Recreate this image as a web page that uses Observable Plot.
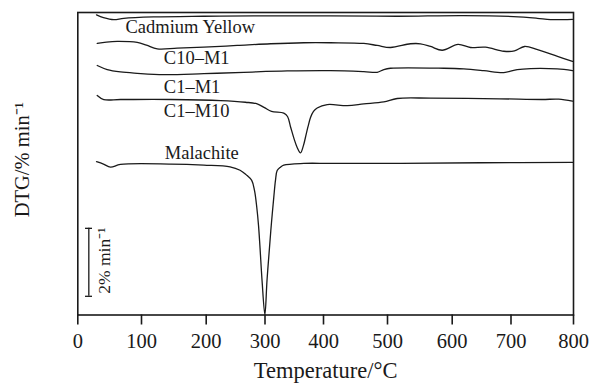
<!DOCTYPE html>
<html><head><meta charset="utf-8">
<script src="https://cdn.jsdelivr.net/npm/d3@7"></script>
<script src="https://cdn.jsdelivr.net/npm/@observablehq/plot@0.6"></script>
<style>body{margin:0;background:#fff}</style>
</head><body><div id="chart"></div>
<script>
// x tick labels (°C)
const xTicks = [0, 100, 200, 300, 400, 500, 600, 700, 800];

// Series (temperature °C, DTG in %/min with vertical offsets as stacked in the figure)
const cadmiumT   = [29.4, 40.3, 56.5, 72.2, 118.5, 195.8, 280.4, 410.9, 515, 619.2, 704, 741.9, 763.2, 798.4];
const cadmiumDTG = [8.83, 8.75, 8.69, 8.73, 8.77, 8.79, 8.80, 8.80, 8.79, 8.81, 8.78, 8.73, 8.69, 8.70];

const c10m1T   = [30.5, 45, 61.9, 93.3, 107.7, 124.3, 155.2, 196.3, 252.7, 309.4, 366.3, 410.9, 463, 483.9, 504.6, 535.5, 551, 566.5, 584.6, 609.9, 631.1, 656.6, 687.8, 705.6, 721.6, 742.4, 774.4, 798.4];
const c10m1DTG = [7.99, 8.03, 8.05, 8.02, 7.94, 7.83, 7.85, 7.88, 7.93, 7.98, 8.01, 8.01, 7.99, 7.93, 7.87, 7.98, 7.98, 7.90, 7.79, 7.96, 7.87, 7.88, 7.76, 7.77, 7.90, 7.81, 7.61, 7.46];

const c1m1T   = [30.5, 46.2, 67, 93.2, 134.5, 196.3, 263.9, 338, 410.9, 463, 483.9, 494.2, 504.6, 587, 619.7, 653.7, 687.7, 709.9, 731.2, 773.9, 798.4];
const c1m1DTG = [7.34, 7.22, 7.15, 7.11, 7.07, 7.10, 7.14, 7.18, 7.19, 7.16, 7.14, 7.22, 7.26, 7.26, 7.24, 7.19, 7.13, 7.22, 7.25, 7.24, 7.19];

const c1m10T   = [30.5, 40.8, 67, 145.3, 224.3, 266.8, 286.7, 299.1, 311.1, 332.1, 338.5, 343.6, 349.6, 355.0, 360.7, 365.8, 369.2, 373.5, 377.8, 382.9, 389.2, 405.8, 437, 463, 494.2, 515, 566.5, 680.6, 749.6, 776.3, 798.4];
const c1m10DTG = [6.46, 6.34, 6.34, 6.34, 6.31, 6.26, 6.21, 6.10, 5.99, 5.94, 5.84, 5.54, 5.19, 4.93, 4.77, 4.99, 5.23, 5.54, 5.81, 5.99, 6.09, 6.19, 6.16, 6.21, 6.27, 6.37, 6.38, 6.36, 6.34, 6.35, 6.29];

const malachiteT   = [29.4, 40.3, 51.3, 67, 145.3, 196.3, 240.6, 257.6, 267.8, 277.4, 282.2, 286, 289, 291.5, 295, 299.8, 303.4, 307.7, 311.1, 315.0, 317.9, 320.8, 326.5, 332.1, 366.3, 410.9, 520.4, 648.1, 798.4];
const malachiteDTG = [4.51, 4.44, 4.35, 4.43, 4.44, 4.41, 4.36, 4.26, 4.13, 3.96, 3.66, 3.17, 2.63, 1.99, 1.01, 0.01, 1.01, 1.99, 2.72, 3.46, 3.96, 4.25, 4.35, 4.41, 4.46, 4.46, 4.46, 4.48, 4.49];

// Curve labels
const labelNames = ["Cadmium Yellow", "C10–M1", "C1–M1", "C1–M10", "Malachite"];
const labelT     = [74.9, 134.5, 134.5, 134.5, 136];
const labelDTG   = [8.31, 7.39, 6.52, 5.82, 4.59];

// Scale bar: 2 %/min
const scaleBarT = 17.3;
const scaleBarCapT = [12.1, 23.1];
const scaleBarDTG = [0.55, 2.55];
const scaleBarLabel = "2% min⁻¹";
const scaleBarLabelT = 41.9;
const scaleBarLabelDTG = 1.6;

const yLabel = "DTG/% min⁻¹";
const xLabel = "Temperature/°C";

const toRows = (T, V) => T.map((t, i) => ({t, v: V[i]}));
const series = [
  toRows(cadmiumT, cadmiumDTG),
  toRows(c10m1T, c10m1DTG),
  toRows(c1m1T, c1m1DTG),
  toRows(c1m10T, c1m10DTG),
  toRows(malachiteT, malachiteDTG)
];
const labels = labelNames.map((n, i) => ({n, t: labelT[i], v: labelDTG[i]}));

const ink = "#1a1a1a";
const chart = Plot.plot({
  width: 591, height: 384,
  marginLeft: 77.3, marginRight: 18, marginTop: 12, marginBottom: 69.5,
  style: {fontFamily: "'Liberation Serif', 'Times New Roman', serif", background: "#fff", color: ink},
  x: {type: "linear", domain: xTicks, range: [77.3, 141, 205.7, 264.5, 323, 387, 451.7, 510.5, 573]},
  y: {domain: [0, 8.9], axis: null},
  marks: [
    ...series.map(d => Plot.line(d, {x: "t", y: "v", stroke: ink, strokeWidth: 1.3, curve: "catmull-rom"})),
    Plot.frame({stroke: ink, strokeWidth: 1.6}),
    Plot.axisX({ticks: xTicks, tickSize: 10, tickPadding: 8, fontSize: 20.5, label: null, strokeWidth: 1.6, tickFormat: d => String(d)}),
    Plot.text(labels, {x: "t", y: "v", text: "n", textAnchor: "start", lineAnchor: "bottom", fontSize: 18.5, fill: ink}),
    Plot.ruleX([scaleBarT], {x: d => d, y1: scaleBarDTG[0], y2: scaleBarDTG[1], stroke: ink, strokeWidth: 1.3}),
    Plot.ruleY(scaleBarDTG, {y: d => d, x1: scaleBarCapT[0], x2: scaleBarCapT[1], stroke: ink, strokeWidth: 1.3}),
    Plot.text([scaleBarLabel], {x: scaleBarLabelT, y: scaleBarLabelDTG, text: d => d, rotate: -90, fontSize: 17.5, textAnchor: "middle", lineAnchor: "middle", fill: ink}),
    Plot.text([yLabel], {frameAnchor: "left", dx: -55, dy: -4, text: d => d, rotate: -90, fontSize: 20.5, textAnchor: "middle", lineAnchor: "middle", fill: ink}),
    Plot.text([xLabel], {frameAnchor: "bottom", dy: 63, text: d => d, lineAnchor: "bottom", fontSize: 22.5, fill: ink})
  ]
});
document.getElementById("chart").appendChild(chart);
</script>
</body></html>
